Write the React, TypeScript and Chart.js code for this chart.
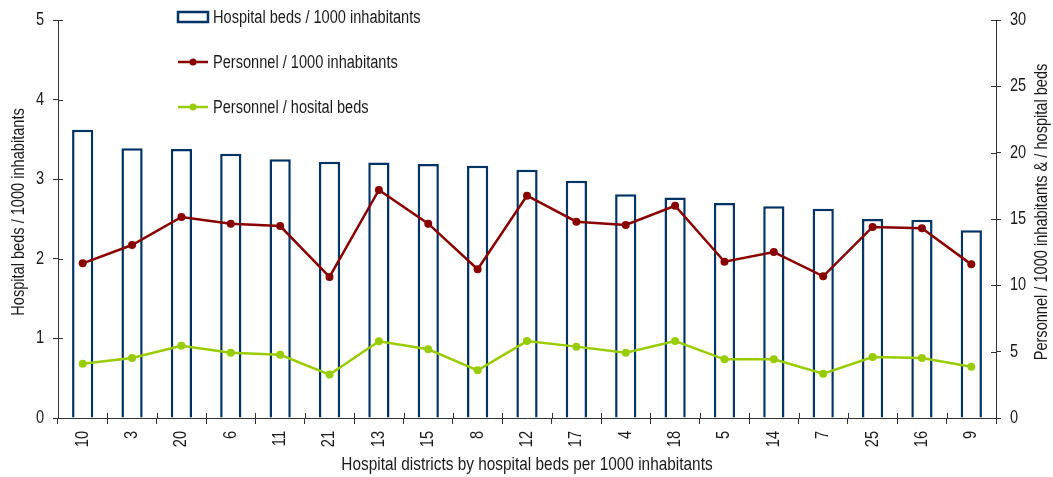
import React, { useEffect, useRef } from 'react';
import { Chart, registerables } from 'chart.js';

Chart.register(...registerables);

const districts = ['10', '3', '20', '6', '11', '21', '13', '15', '8', '12', '17', '4', '18', '5', '14', '7', '25', '16', '9'];
const bedsPer1000 = [3.62, 3.39, 3.38, 3.32, 3.25, 3.22, 3.21, 3.19, 3.17, 3.12, 2.98, 2.81, 2.77, 2.70, 2.66, 2.63, 2.50, 2.49, 2.36];
const personnelPer1000 = [11.66, 13.04, 15.15, 14.65, 14.47, 10.63, 17.19, 14.65, 11.21, 16.76, 14.80, 14.55, 16.0, 11.78, 12.51, 10.68, 14.40, 14.30, 11.58];
const personnelPerBed = [4.09, 4.52, 5.45, 4.92, 4.77, 3.27, 5.78, 5.18, 3.59, 5.80, 5.38, 4.92, 5.80, 4.42, 4.42, 3.34, 4.60, 4.52, 3.87];

const seriesNames = ['Hospital beds / 1000 inhabitants', 'Personnel / 1000 inhabitants', 'Personnel / hosital beds'];
const leftTitle = 'Hospital beds / 1000 inhabitants';
const rightTitle = 'Personnel / 1000 inhabitants & / hospital beds';
const xTitle = 'Hospital districts by hospital beds per 1000 inhabitants';

const FONT = '"Liberation Sans", Arial, sans-serif';
const NARROW = 0.81;
const BLUE = '#003366';
const RED = '#880000';
const GREEN = '#99CC00';
const AXIS = '#333333';
const TEXT = '#1a1a1a';

function narrowText(
  ctx: CanvasRenderingContext2D,
  text: string,
  x: number,
  y: number,
  size: number,
  align: CanvasTextAlign,
  rotate = 0,
) {
  ctx.save();
  ctx.font = `${size}px ${FONT}`;
  ctx.textAlign = align;
  ctx.textBaseline = 'middle';
  ctx.translate(x, y);
  if (rotate) ctx.rotate(rotate);
  ctx.scale(NARROW, 1);
  ctx.fillText(text, 0, 0);
  ctx.restore();
}

const extrasPlugin = {
  id: 'extras',
  afterDraw(chart: any) {
    const ctx = chart.ctx as CanvasRenderingContext2D;
    const area = chart.chartArea;
    const yL = chart.scales.y;
    const yR = chart.scales.y1;
    const xs = chart.scales.x;
    ctx.save();
    ctx.strokeStyle = AXIS;
    ctx.lineWidth = 1;
    // inner halves of tick marks
    yL.ticks.forEach((_t: any, i: number) => {
      const py = Math.round(yL.getPixelForTick(i)) + 0.5;
      ctx.beginPath();
      ctx.moveTo(area.left, py);
      ctx.lineTo(area.left + 5, py);
      ctx.stroke();
    });
    yR.ticks.forEach((_t: any, i: number) => {
      const py = Math.round(yR.getPixelForTick(i)) + 0.5;
      ctx.beginPath();
      ctx.moveTo(area.right - 5, py);
      ctx.lineTo(area.right, py);
      ctx.stroke();
    });
    const n = districts.length;
    const step = (area.right - area.left) / n;
    for (let i = 0; i <= n; i++) {
      const px = Math.round(area.left + step * i) + 0.5;
      ctx.beginPath();
      ctx.moveTo(px, area.bottom - 5);
      ctx.lineTo(px, area.bottom);
      ctx.stroke();
    }

    ctx.fillStyle = TEXT;
    // tick labels
    yL.ticks.forEach((t: any, i: number) => {
      narrowText(ctx, String(t.value), area.left - 14, yL.getPixelForTick(i), 18, 'right');
    });
    yR.ticks.forEach((t: any, i: number) => {
      narrowText(ctx, String(t.value), area.right + 14, yR.getPixelForTick(i), 18, 'left');
    });
    districts.forEach((d, i) => {
      narrowText(ctx, d, xs.getPixelForValue(i), area.bottom + 13, 18, 'right', -Math.PI / 2);
    });

    // titles
    narrowText(ctx, xTitle, (area.left + area.right) / 2, 465, 19, 'center');
    narrowText(ctx, leftTitle, 19, 212, 18, 'center', -Math.PI / 2);
    narrowText(ctx, rightTitle, 1042, 212, 18, 'center', -Math.PI / 2);

    // legend
    const lx = 178;
    const rows = [17, 62, 107];
    ctx.strokeStyle = BLUE;
    ctx.lineWidth = 2.5;
    ctx.fillStyle = '#ffffff';
    ctx.fillRect(lx, rows[0] - 5, 30, 10);
    ctx.strokeRect(lx, rows[0] - 5, 30, 10);
    const lineCols = [RED, GREEN];
    [1, 2].forEach((k, j) => {
      ctx.strokeStyle = lineCols[j];
      ctx.lineWidth = 2.5;
      ctx.beginPath();
      ctx.moveTo(lx, rows[k]);
      ctx.lineTo(lx + 30, rows[k]);
      ctx.stroke();
      ctx.fillStyle = lineCols[j];
      ctx.beginPath();
      ctx.arc(lx + 15, rows[k], 3.5, 0, Math.PI * 2);
      ctx.fill();
    });
    ctx.fillStyle = TEXT;
    seriesNames.forEach((s, i) => narrowText(ctx, s, lx + 35, rows[i] + 1, 18, 'left'));
    ctx.restore();
  },
};

export default function App() {
  const ref = useRef<HTMLCanvasElement | null>(null);
  useEffect(() => {
    document.body.style.margin = '0';
    if (!ref.current) return;
    const chart = new Chart(ref.current, {
      type: 'bar',
      data: {
        labels: districts,
        datasets: [
          {
            type: 'line',
            label: seriesNames[1],
            data: personnelPer1000,
            yAxisID: 'y1',
            borderColor: RED,
            backgroundColor: RED,
            borderWidth: 2.5,
            pointRadius: 4,
            pointBackgroundColor: RED,
            pointBorderWidth: 0,
            tension: 0,
            order: 1,
          } as any,
          {
            type: 'line',
            label: seriesNames[2],
            data: personnelPerBed,
            yAxisID: 'y1',
            borderColor: GREEN,
            backgroundColor: GREEN,
            borderWidth: 2.5,
            pointRadius: 4,
            pointBackgroundColor: GREEN,
            pointBorderWidth: 0,
            tension: 0,
            order: 2,
          } as any,
          {
            type: 'bar',
            label: seriesNames[0],
            data: bedsPer1000,
            yAxisID: 'y',
            backgroundColor: '#ffffff',
            borderColor: BLUE,
            borderWidth: 2.5,
            barPercentage: 0.43,
            categoryPercentage: 1,
            order: 3,
          } as any,
        ],
      },
      options: {
        animation: false,
        responsive: false,
        maintainAspectRatio: false,
        layout: { padding: { top: 20, left: 0, right: 0, bottom: 0 } },
        plugins: { legend: { display: false }, tooltip: { enabled: false } },
        scales: {
          x: {
            offset: true,
            grid: { drawOnChartArea: false, drawTicks: true, tickLength: 6, color: AXIS, offset: true },
            border: { color: AXIS, width: 1 },
            ticks: { display: false, autoSkip: false },
            afterFit: (s: any) => { s.height = 59; },
          },
          y: {
            position: 'left',
            min: 0,
            max: 5,
            ticks: { stepSize: 1, display: false },
            grid: { drawOnChartArea: false, drawTicks: true, tickLength: 5, color: AXIS },
            border: { color: AXIS, width: 1 },
            afterFit: (s: any) => { s.width = 58; },
          },
          y1: {
            position: 'right',
            min: 0,
            max: 30,
            ticks: { stepSize: 5, display: false },
            grid: { drawOnChartArea: false, drawTicks: true, tickLength: 5, color: AXIS },
            border: { color: AXIS, width: 1 },
            afterFit: (s: any) => { s.width = 57; },
          },
        },
      },
      plugins: [extrasPlugin],
    });
    return () => chart.destroy();
  }, []);
  return (
    <div style={{ width: 1053, height: 477, background: '#fff' }}>
      <canvas ref={ref} width={1053} height={477} style={{ display: 'block' }} />
    </div>
  );
}
